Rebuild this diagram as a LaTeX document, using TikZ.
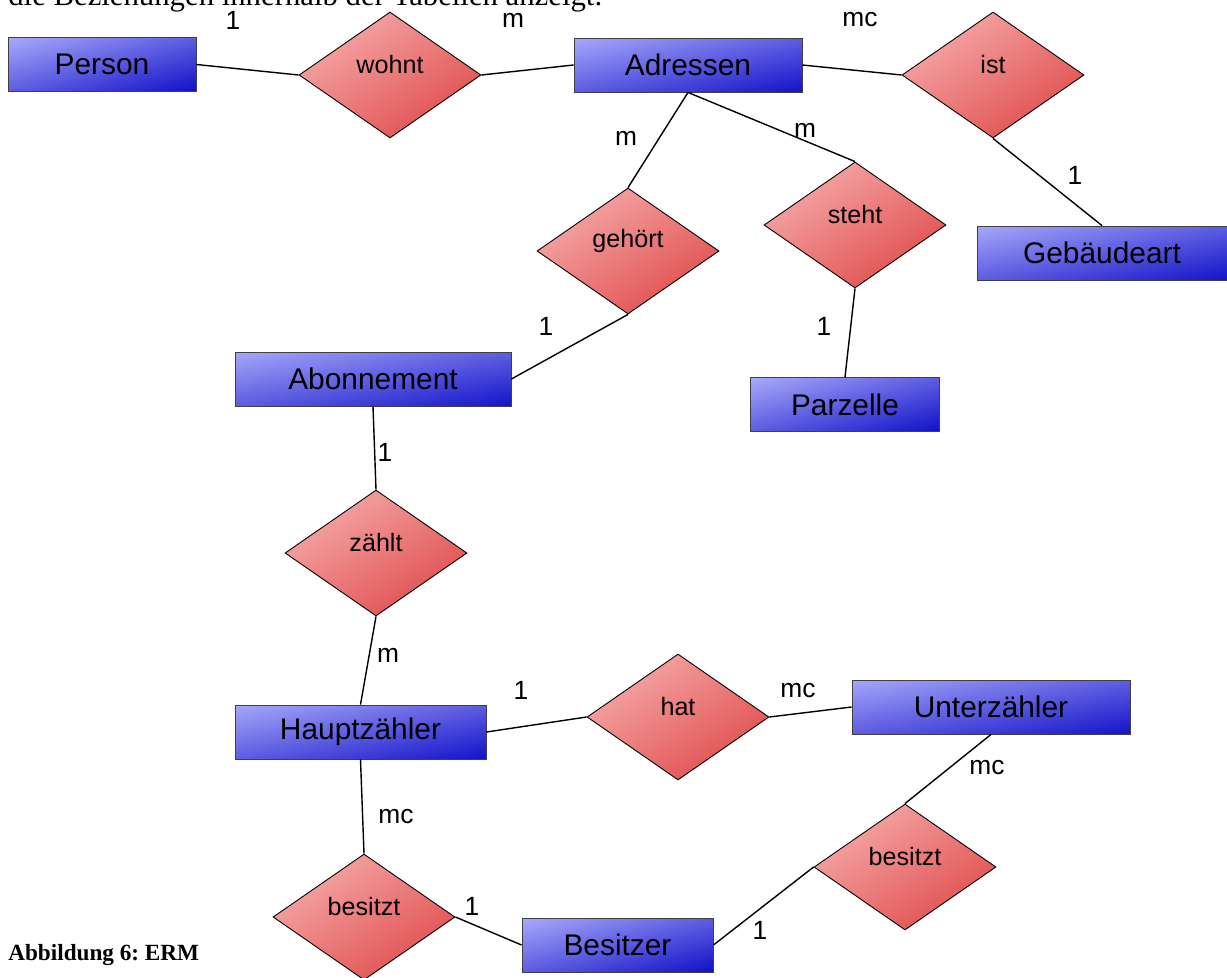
\documentclass[tikz,border=0pt]{standalone}
\usepackage{fontspec}
\setmainfont{Liberation Serif}
\newfontfamily\ersans{Liberation Sans}
\usetikzlibrary{shapes.geometric}
\frenchspacing

\definecolor{entlight}{HTML}{B6B6FF}
\definecolor{entdark}{HTML}{0404C4}
\definecolor{rellight}{HTML}{FABABA}
\definecolor{reldark}{HTML}{DC3C3C}
% diagonal gradients (light top left, dark bottom right)
\pgfdeclareverticalshading{entshade}{100bp}{color(0bp)=(entdark); color(14bp)=(entdark);
  color(86bp)=(entlight); color(100bp)=(entlight)}
\pgfdeclareverticalshading{relshade}{100bp}{color(0bp)=(reldark); color(15bp)=(reldark);
  color(85bp)=(rellight); color(100bp)=(rellight)}

\tikzset{
  entity/.style={rectangle,draw=black!75,line width=0.5pt,inner sep=0pt,
    minimum width=#1*0.02cm,minimum height=1.08cm,
    shade,shading=entshade,shading angle={atan(54/#1)},
    font=\ersans\fontsize{17}{20}\selectfont},
  relation/.style={diamond,draw=black,line width=0.5pt,inner sep=0pt,
    minimum width=3.64cm,minimum height=2.52cm,
    shade,shading=relshade,shading angle=34.7,
    label={[font=\ersans\fontsize{14.3}{17}\selectfont,yshift=0.21cm]center:#1}},
  card/.style={font=\ersans\fontsize{15}{18}\selectfont,inner sep=0pt},
  link/.style={draw=black,line width=0.8pt}
}

\begin{document}
\begin{tikzpicture}[x=0.02cm,y=-0.02cm]
\useasboundingbox (0,0) rectangle (1227,977);
% ---------- running text (cut off at the top) ----------
\node[anchor=base west,inner sep=0pt,font=\fontsize{17.5}{20}\selectfont] (txt) at (8,6)
  {die Beziehungen innerhalb der Tabellen anzeigt.};
% ---------- entities ----------
\node[entity=188] (person) at (102,64.5) {Person};
\node[entity=228] (adr) at (688,65) {Adressen};
\node[entity=250] (geb) at (1102,253) {Gebäudeart};
\node[entity=276] (abo) at (373,379) {Abonnement};
\node[entity=189] (parz) at (845,404.5) {Parzelle};
\node[entity=251] (haupt) at (360.5,732) {Hauptzähler};
\node[entity=278] (unter) at (991,707) {Unterzähler};
\node[entity=191] (besitzer) at (617.5,945) {Besitzer};
% ---------- relationships ----------
\node[relation=wohnt] (wohnt) at (390,75) {};
\node[relation=ist] (ist) at (993,75) {};
\node[relation=gehört] (gehoert) at (628,251) {};
\node[relation=steht] (steht) at (855,225) {};
\node[relation=zählt] (zaehlt) at (376,553) {};
\node[relation=hat] (hat) at (678,717) {};
\node[relation=besitzt] (besR) at (905,867) {};
\node[relation=besitzt] (besL) at (364,917) {};
% ---------- connectors ----------
\draw[link] (person.east) -- (wohnt.west);
\draw[link] (wohnt.east) -- (adr.west);
\draw[link] (adr.east) -- (ist.west);
\draw[link] (ist.south) -- (geb.north);
\draw[link] (adr.south) -- (gehoert.north);
\draw[link] (adr.south) -- (steht.north);
\draw[link] (gehoert.south) -- (abo.east);
\draw[link] (steht.south) -- (parz.north);
\draw[link] (abo.south) -- (zaehlt.north);
\draw[link] (zaehlt.south) -- (haupt.north);
\draw[link] (haupt.east) -- (hat.west);
\draw[link] (hat.east) -- (unter.west);
\draw[link] (haupt.south) -- (besL.north);
\draw[link] (besL.east) -- (besitzer.west);
\draw[link] (besitzer.east) -- (besR.west);
\draw[link] (besR.north) -- (unter.south);
% ---------- cardinalities ----------
\node[card] (c1) at (233,20) {1};
\node[card] (c2) at (513,20) {m};
\node[card] (c3) at (860,20) {mc};
\node[card] (c4) at (626,138) {m};
\node[card] (c5) at (805,130) {m};
\node[card] (c6) at (1075,175) {1};
\node[card] (c7) at (546,326) {1};
\node[card] (c8) at (824,326) {1};
\node[card] (c9) at (385,452) {1};
\node[card] (c10) at (388,655) {m};
\node[card] (c11) at (521,690) {1};
\node[card] (c12) at (798,691) {mc};
\node[card] (c13) at (987,768) {mc};
\node[card] (c14) at (396,817) {mc};
\node[card] (c15) at (472,906) {1};
\node[card] (c16) at (760,930) {1};
% ---------- caption ----------
\node[anchor=base west,inner sep=0pt,font=\bfseries\fontsize{13.2}{15}\selectfont] (cap) at (8,960)
  {Abbildung 6: ERM};
\end{tikzpicture}
\end{document}
